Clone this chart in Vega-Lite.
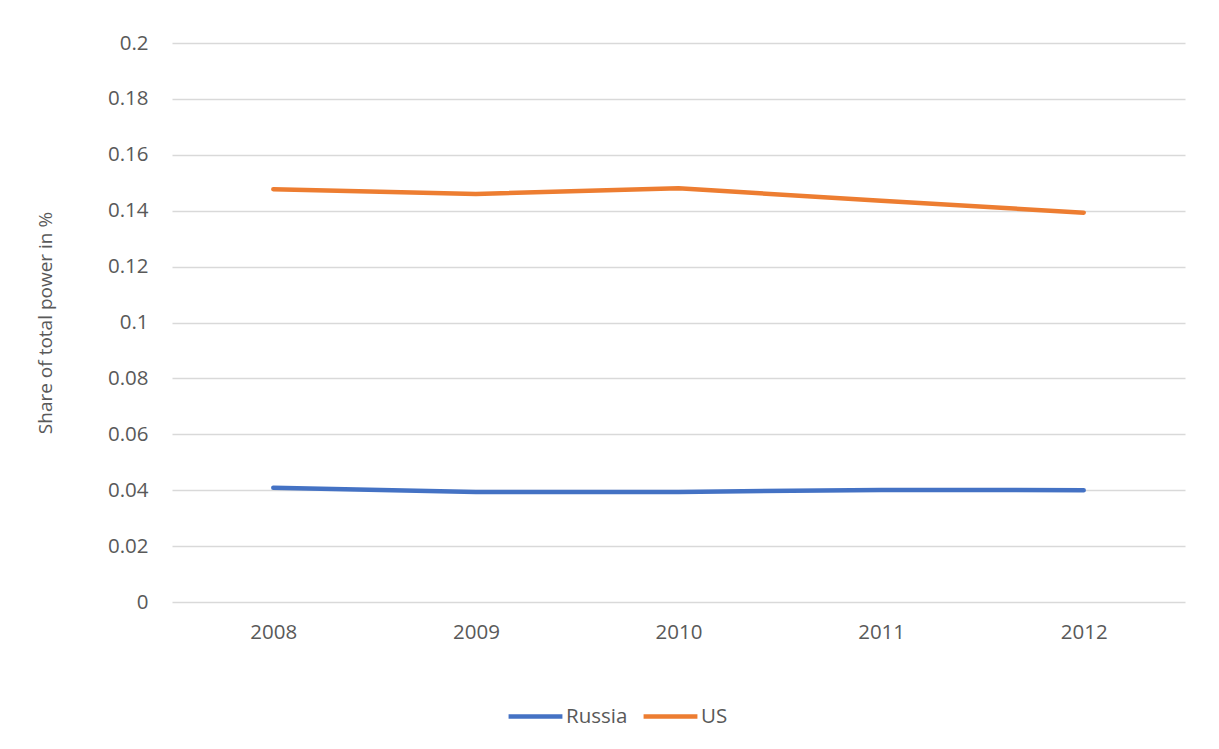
{
  "$schema": "https://vega.github.io/schema/vega-lite/v6.json",
  "width": 1013,
  "height": 559,
  "autosize": {"type": "none"},
  "padding": {"left": 172, "top": 43, "right": 34, "bottom": 147},
  "background": "white",
  "data": {
    "values": [
      {"year": "2008", "country": "Russia", "share": 0.0409},
      {"year": "2009", "country": "Russia", "share": 0.0394},
      {"year": "2010", "country": "Russia", "share": 0.0394},
      {"year": "2011", "country": "Russia", "share": 0.0401},
      {"year": "2012", "country": "Russia", "share": 0.0400},
      {"year": "2008", "country": "US", "share": 0.1477},
      {"year": "2009", "country": "US", "share": 0.1460},
      {"year": "2010", "country": "US", "share": 0.1480},
      {"year": "2011", "country": "US", "share": 0.1436},
      {"year": "2012", "country": "US", "share": 0.1393}
    ]
  },
  "mark": {"type": "line", "strokeWidth": 4.5, "strokeCap": "round", "strokeJoin": "round"},
  "encoding": {
    "x": {
      "field": "year",
      "type": "ordinal",
      "scale": {"type": "point", "padding": 0.5},
      "axis": {
        "title": null,
        "labelAngle": 0,
        "domain": false,
        "ticks": false,
        "grid": false,
        "labelPadding": 20,
        "labelFontSize": 20.5,
        "labelColor": "#595959",
        "labelFont": "Open Sans"
      }
    },
    "y": {
      "field": "share",
      "type": "quantitative",
      "scale": {"domain": [0, 0.2], "nice": false},
      "axis": {
        "title": "Share of total power in %",
        "titleFont": "Open Sans",
        "titleFontSize": 19,
        "titleFontWeight": "normal",
        "titleColor": "#595959",
        "titleX": -127,
        "titleBaseline": "middle",
        "values": [0, 0.02, 0.04, 0.06, 0.08, 0.1, 0.12, 0.14, 0.16, 0.18, 0.2],
        "labelExpr": "datum.value === 0 ? '0' : format(datum.value, '~g')",
        "domain": false,
        "ticks": false,
        "grid": true,
        "gridColor": "#d9d9d9",
        "gridWidth": 1.5,
        "labelPadding": 24,
        "labelFontSize": 20.5,
        "labelColor": "#595959",
        "labelFont": "Open Sans"
      }
    },
    "color": {
      "field": "country",
      "type": "nominal",
      "scale": {"domain": ["Russia", "US"], "range": ["#4472C4", "#ED7D31"]},
      "legend": {
        "title": null,
        "orient": "none",
        "direction": "horizontal",
        "legendX": 334,
        "legendY": 644,
        "symbolType": "stroke",
        "symbolSize": 2900,
        "symbolStrokeWidth": 4.5,
        "labelFont": "Open Sans",
        "labelFontSize": 20.5,
        "labelColor": "#595959",
        "labelOffset": 1,
        "columnPadding": 6
      }
    }
  },
  "config": {"view": {"stroke": null}}
}
